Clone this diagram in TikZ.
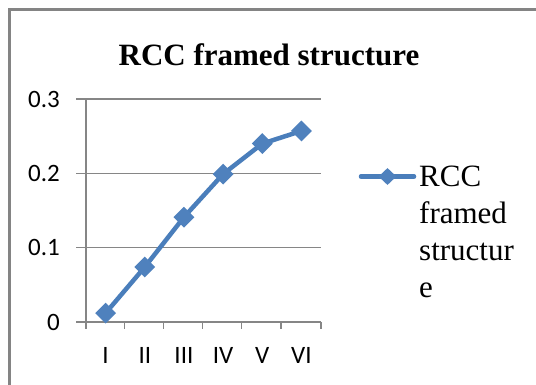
\documentclass[tikz,border=0pt]{standalone}
\usepackage{fontspec}
\setmainfont{Liberation Serif}
\newfontfamily\calfont{Carlito}
\usetikzlibrary{shapes.geometric}
\definecolor{serblue}{HTML}{4A7EBB}
\definecolor{mkblue}{HTML}{4F81BD}
\definecolor{gridgray}{HTML}{868686}
\definecolor{framegray}{HTML}{848484}
\tikzset{
  gridln/.style={draw=gridgray, line width=1.4pt},
  series/.style={draw=serblue, line width=4.5pt, line join=round, line cap=round},
  mk/.style={diamond, fill=mkblue, draw=none, minimum width=21pt, minimum height=21pt, inner sep=0pt},
  mksmall/.style={diamond, fill=mkblue, draw=none, minimum width=18pt, minimum height=17pt, inner sep=0pt},
  ylab/.style={font=\calfont\fontsize{25}{30}\selectfont, anchor=east, inner sep=0pt},
  xlab/.style={font=\calfont\fontsize{25}{30}\selectfont, anchor=center, inner sep=0pt},
}
\begin{document}
\begin{tikzpicture}[x=1pt,y=-1pt]
\useasboundingbox (0,0) rectangle (536,384);
\fill[white] (0,0) rectangle (536,384);
% outer frame (continues past the right and bottom edges)
\draw[framegray, line width=2.6pt] (9.3,390) -- (9.3,9.3) -- (540,9.3);
% title
\node[font=\bfseries\fontsize{31}{36}\selectfont, anchor=base, inner sep=0pt] (title) at (269,65) {RCC framed structure};
% gridlines with left ticks
\foreach \v/\yy in {0/322,1/247.7,2/173.3,3/99} {
  \draw[gridln] (76,\yy) -- (321,\yy);
}
% y axis
\draw[gridln] (86,99) -- (86,329);
% x ticks
\foreach \xx in {124.2,163.3,202.5,241.7,280.8,321} {
  \draw[gridln] (\xx,322) -- (\xx,329);
}
% y labels
\node[ylab] (y0) at (60,322) {0};
\node[ylab] (y1) at (60,247.7) {0.1};
\node[ylab] (y2) at (60,173.3) {0.2};
\node[ylab] (y3) at (60,99.5) {0.3};
% x labels
\node[xlab] (x1) at (105.6,355) {I};
\node[xlab] (x2) at (144.8,355) {II};
\node[xlab] (x3) at (183.9,355) {III};
\node[xlab] (x4) at (223.1,355) {IV};
\node[xlab] (x5) at (262.3,355) {V};
\node[xlab] (x6) at (301.4,355) {VI};
% data
\coordinate (p1) at (105.6,{322-743.3*0.012});
\coordinate (p2) at (144.8,{322-743.3*0.074});
\coordinate (p3) at (183.9,{322-743.3*0.141});
\coordinate (p4) at (223.1,{322-743.3*0.199});
\coordinate (p5) at (262.3,{322-743.3*0.240});
\coordinate (p6) at (301.4,{322-743.3*0.257});
\draw[series] (p1) -- (p2) -- (p3) -- (p4) -- (p5) -- (p6);
\foreach \i in {1,...,6} { \node[mk] (m\i) at (p\i) {}; }
% legend
\coordinate (la) at (361,176.5);
\coordinate (lb) at (414,176.5);
\draw[series] (la) -- (lb);
\node[mksmall] (lm) at (387.5,176.5) {};
\node[font=\fontsize{31}{37}\selectfont, align=left, anchor=north west, inner sep=0pt] (legtext) at (419,166) {RCC\\framed\\structur\\e};
\end{tikzpicture}
\end{document}
